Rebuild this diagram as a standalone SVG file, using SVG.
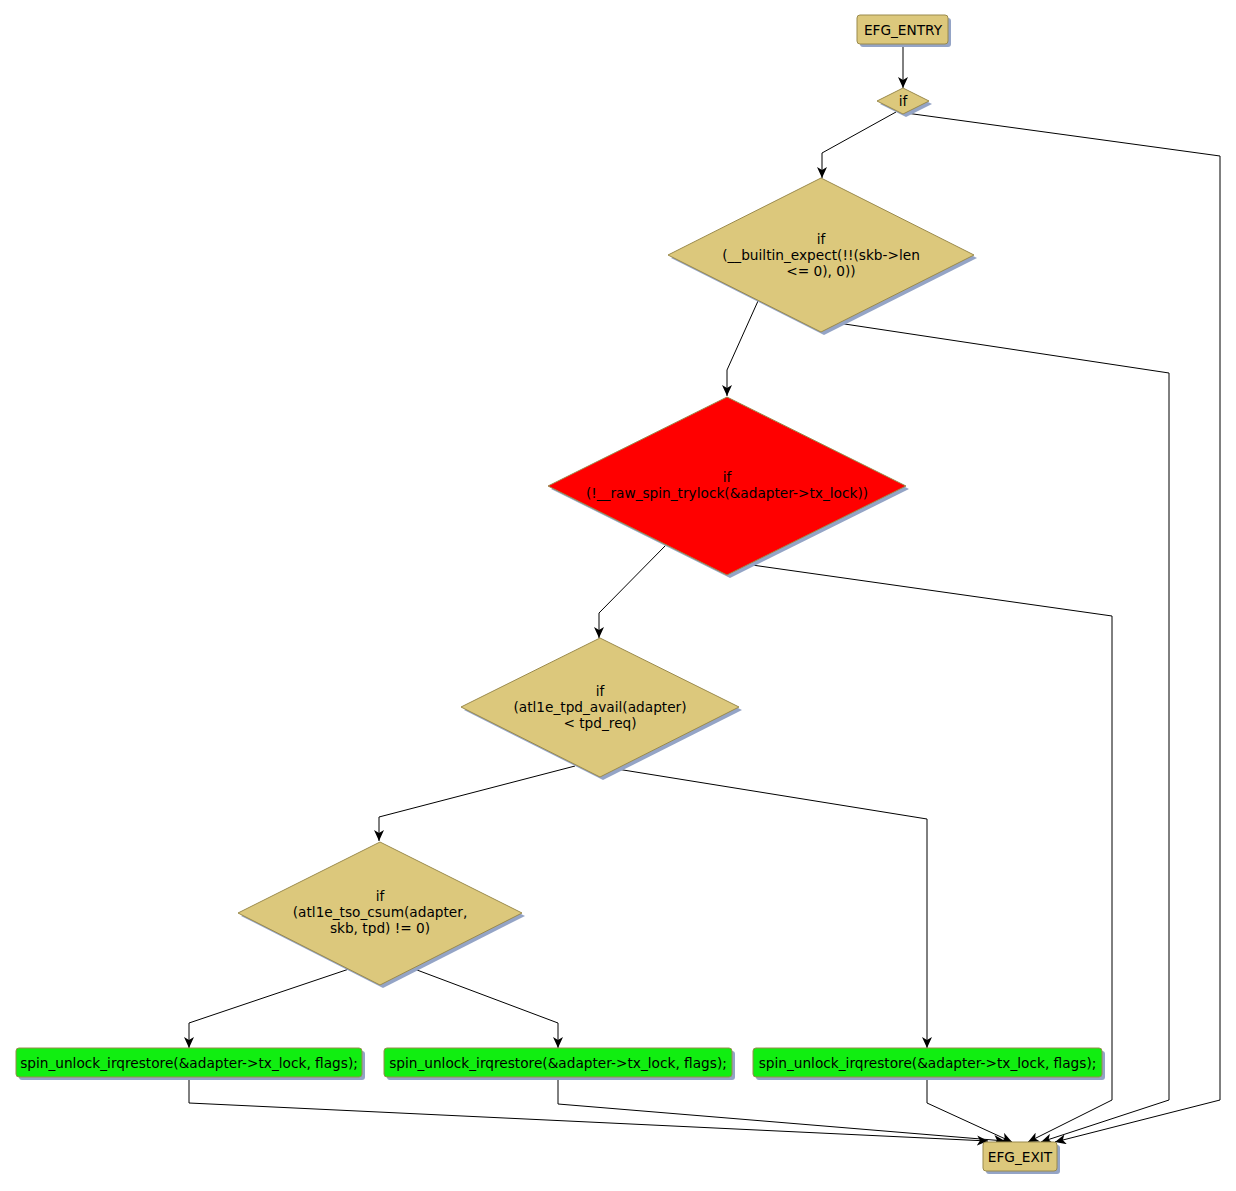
<svg xmlns="http://www.w3.org/2000/svg" width="1236" height="1191" viewBox="0 0 1236 1191">
<defs>
<marker id="arr" markerWidth="11" markerHeight="10" refX="11" refY="5" orient="auto" markerUnits="userSpaceOnUse">
<path d="M0,0 L11,5 L0,10 L3,5 Z" fill="#000"/>
</marker>
</defs>
<style>
.tan{fill:#dcc87c;stroke:#9a8a4c;stroke-width:1}
.red{fill:#ff0000;stroke:#9a8a4c;stroke-width:1}
.grn{fill:#11ee11;stroke:#9a8a4c;stroke-width:1}
.sh{fill:#94a4c6}
text{font-family:"DejaVu Sans","Liberation Sans",sans-serif;font-size:13.7px;fill:#000;text-anchor:middle}
.e{fill:none;stroke:#000;stroke-width:1;marker-end:url(#arr)}
</style>
<rect width="1236" height="1191" fill="#fff"/>
<g id="connectors">
<polyline class="e" points="903,44 903,88"/>
<polyline class="e" points="896,112 822,153 822,178"/>
<polyline class="e" points="906,113 1220,156 1220,1100 1055,1142"/>
<polyline class="e" points="758,301 727,370 727,396"/>
<polyline class="e" points="838,323 1169,373 1169,1100 1041,1142"/>
<polyline class="e" points="666,545 599,613 599,638"/>
<polyline class="e" points="745,564 1112,616 1112,1100 1028,1142"/>
<polyline class="e" points="575,766 379,817 379,841"/>
<polyline class="e" points="617,769 927,819 927,1048"/>
<polyline class="e" points="349,969 189,1023 189,1048"/>
<polyline class="e" points="409,967 558,1023 558,1048"/>
<polyline class="e" points="189,1077 189,1103 988,1141"/>
<polyline class="e" points="558,1077 558,1104 1005,1141"/>
<polyline class="e" points="927,1077 927,1103 1012,1142"/>
</g>
<g id="EFG_ENTRY">
<rect class="sh" x="860" y="18" width="91" height="29" rx="3"/>
<rect class="tan" x="857" y="15" width="91" height="29" rx="3"/>
<text x="903" y="34.5">EFG_ENTRY</text>
</g>
<g id="if0">
<polygon class="sh" points="906,91 932,104 906,117 880,104"/>
<polygon class="tan" points="903,88 929,101 903,114 877,101"/>
<text x="903" y="106">if</text>
</g>
<g id="if_builtin">
<polygon class="sh" points="824,181 977,258 824,335 671,258"/>
<polygon class="tan" points="821,178 974,255 821,332 668,255"/>
<text x="821" y="244">if</text>
<text x="821" y="260">(__builtin_expect(!!(skb-&gt;len</text>
<text x="821" y="276">&lt;= 0), 0))</text>
</g>
<g id="if_trylock">
<polygon class="sh" points="730,400 909,489 730,578 551,489"/>
<polygon class="red" points="727,397 906,486 727,575 548,486"/>
<text x="727" y="482">if</text>
<text x="727" y="498">(!__raw_spin_trylock(&amp;adapter-&gt;tx_lock))</text>
</g>
<g id="if_tpd">
<polygon class="sh" points="603,641 742,710 603,780 464,710"/>
<polygon class="tan" points="600,638 739,707 600,777 461,707"/>
<text x="600" y="696">if</text>
<text x="600" y="712">(atl1e_tpd_avail(adapter)</text>
<text x="600" y="728">&lt; tpd_req)</text>
</g>
<g id="if_tso">
<polygon class="sh" points="383,845 525,916 383,988 241,916"/>
<polygon class="tan" points="380,842 522,913 380,985 238,913"/>
<text x="380" y="901">if</text>
<text x="380" y="917">(atl1e_tso_csum(adapter,</text>
<text x="380" y="933">skb, tpd) != 0)</text>
</g>
<g id="unlock1">
<rect class="sh" x="19" y="1051" width="346" height="29" rx="3"/>
<rect class="grn" x="16" y="1048" width="346" height="29" rx="3"/>
<text x="189" y="1067.5">spin_unlock_irqrestore(&amp;adapter-&gt;tx_lock, flags);</text>
</g>
<g id="unlock2">
<rect class="sh" x="387" y="1051" width="348" height="29" rx="3"/>
<rect class="grn" x="384" y="1048" width="348" height="29" rx="3"/>
<text x="558" y="1067.5">spin_unlock_irqrestore(&amp;adapter-&gt;tx_lock, flags);</text>
</g>
<g id="unlock3">
<rect class="sh" x="756" y="1051" width="349" height="29" rx="3"/>
<rect class="grn" x="753" y="1048" width="349" height="29" rx="3"/>
<text x="927.5" y="1067.5">spin_unlock_irqrestore(&amp;adapter-&gt;tx_lock, flags);</text>
</g>
<g id="EFG_EXIT">
<rect class="sh" x="986" y="1145" width="74" height="29" rx="3"/>
<rect class="tan" x="983" y="1142" width="74" height="29" rx="3"/>
<text x="1020" y="1161.5">EFG_EXIT</text>
</g>
</svg>
